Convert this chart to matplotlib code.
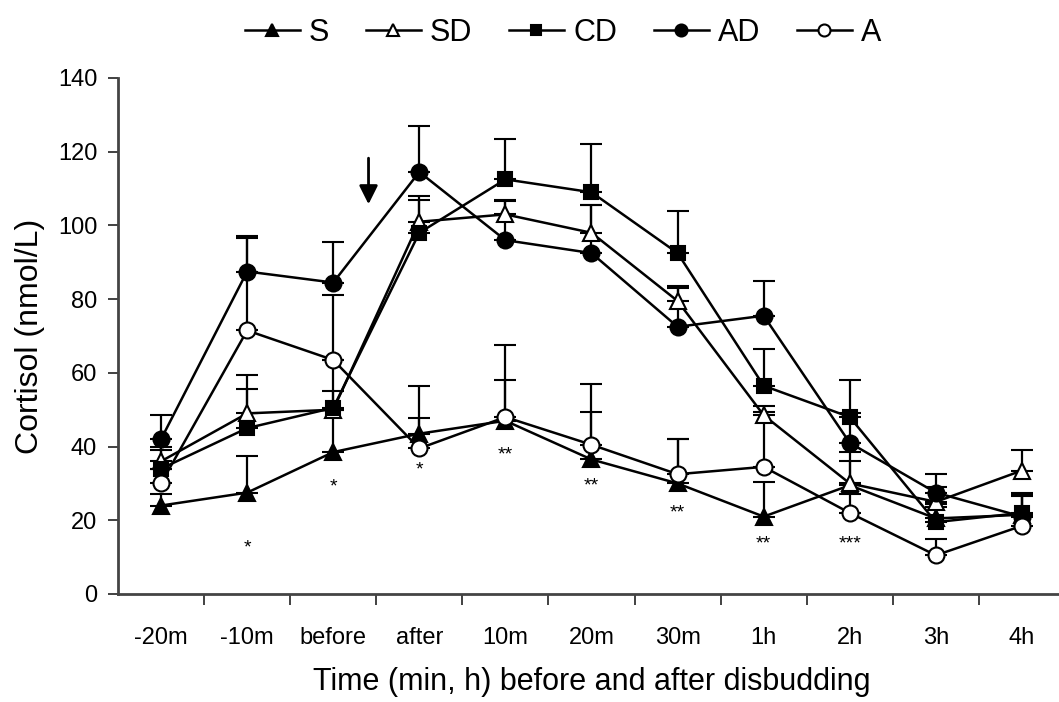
import numpy as np
import matplotlib.pyplot as plt

plt.rcParams['font.family'] = ['Liberation Sans', 'DejaVu Sans']

# time points
times = ['-20m', '-10m', 'before', 'after', '10m', '20m', '30m', '1h', '2h', '3h', '4h']

# cortisol means (nmol/L) and upper SE
s_mean = [24, 27.5, 38.5, 43.5, 47, 36.5, 30, 21, 29.5, 20.5, 21.5]
s_err = [3, 10, 11.5, 12.8, 11, 20.5, 12, 9.5, 9, 4, 5]
sd_mean = [36, 49, 50, 101, 103, 98, 79.5, 48.5, 30, 25, 33.5]
sd_err = [4, 10.5, 5, 6, 3.5, 7.5, 3.5, 2.5, 6, 4, 5.5]
cd_mean = [34, 45, 50.5, 98, 112.5, 109, 92.5, 56.5, 48, 19.5, 22]
cd_err = [5, 10.5, 13, 10, 11, 13, 11.5, 10, 10, 4, 5.5]
ad_mean = [42, 87.5, 84.5, 114.5, 96, 92.5, 72.5, 75.5, 41, 27.5, 21]
ad_err = [6.5, 9.5, 11, 12.5, 11, 13, 11, 9.5, 8, 5, 6]
a_mean = [30, 71.5, 63.5, 39.5, 48, 40.5, 32.5, 34.5, 22, 10.5, 18.5]
a_err = [4, 25, 17.5, 8.2, 19.5, 9, 9.5, 15, 5, 4.5, 3]

# significance marks under the S series
sig_pos = [1, 2, 3, 4, 5, 6, 7, 8]
sig_y = [12.5, 29, 33.6, 37.7, 29.3, 22, 13.6, 13.6]
sig_txt = ['*', '*', '*', '**', '**', '**', '**', '***']

series = [
    ('S', s_mean, s_err, '^', 'black'),
    ('SD', sd_mean, sd_err, '^', 'white'),
    ('CD', cd_mean, cd_err, 's', 'black'),
    ('AD', ad_mean, ad_err, 'o', 'black'),
    ('A', a_mean, a_err, 'o', 'white'),
]

fig = plt.figure(figsize=(10.59, 7.02), dpi=100)
ax = fig.add_axes([118 / 1059, 1 - 594 / 702, 947 / 1059, 516 / 702])

x = np.arange(len(times))
handles = []
for name, mean, err, mk, fc in series:
    low = np.zeros(len(err))
    cont = ax.errorbar(x, mean, yerr=[low, err], color='black', lw=1.8,
                       marker=mk, markersize=11.5 if mk != 's' else 10.5,
                       markerfacecolor=fc, markeredgecolor='black',
                       markeredgewidth=1.5, elinewidth=1.6, capsize=8,
                       capthick=1.6, label=name)
    handles.append(cont[0])

for xi, yi, t in zip(sig_pos, sig_y, sig_txt):
    ax.text(xi, yi, t, ha='center', va='center', fontsize=14)

# disbudding arrow
ax.annotate('', xy=(2.41, 105), xytext=(2.41, 119),
            arrowprops=dict(arrowstyle='-|>', color='black', lw=2,
                            mutation_scale=28))

ax.set_xlim(-0.5, 10.5)
ax.set_ylim(0, 140)
ax.set_yticks(np.arange(0, 141, 20))
ax.set_xticks(x)
ax.set_xticklabels(times)
ax.set_xticks(np.arange(0.5, 10.5, 1), minor=True)
ax.tick_params(axis='x', which='major', length=0, pad=24, labelsize=17)
ax.tick_params(axis='x', which='minor', length=8, width=1.3, direction='out',
               color='#333333')
ax.tick_params(axis='y', length=7, width=1.3, pad=8, labelsize=17,
               color='#333333')

for sp in ['top', 'right']:
    ax.spines[sp].set_visible(False)
for sp in ['left', 'bottom']:
    ax.spines[sp].set_linewidth(2)
    ax.spines[sp].set_color('#444444')

ax.set_ylabel('Cortisol (nmol/L)', fontsize=23, labelpad=9)
ax.set_xlabel('Time (min, h) before and after disbudding', fontsize=22,
              labelpad=13)

fig.legend(handles=handles, labels=[s[0] for s in series], loc='center',
           bbox_to_anchor=(563 / 1059, 1 - 33 / 702), ncol=5, frameon=False,
           fontsize=22, handlelength=1.8, handletextpad=0.3,
           columnspacing=1.2, markerscale=0.75)

fig.savefig('out.png', dpi=100)
